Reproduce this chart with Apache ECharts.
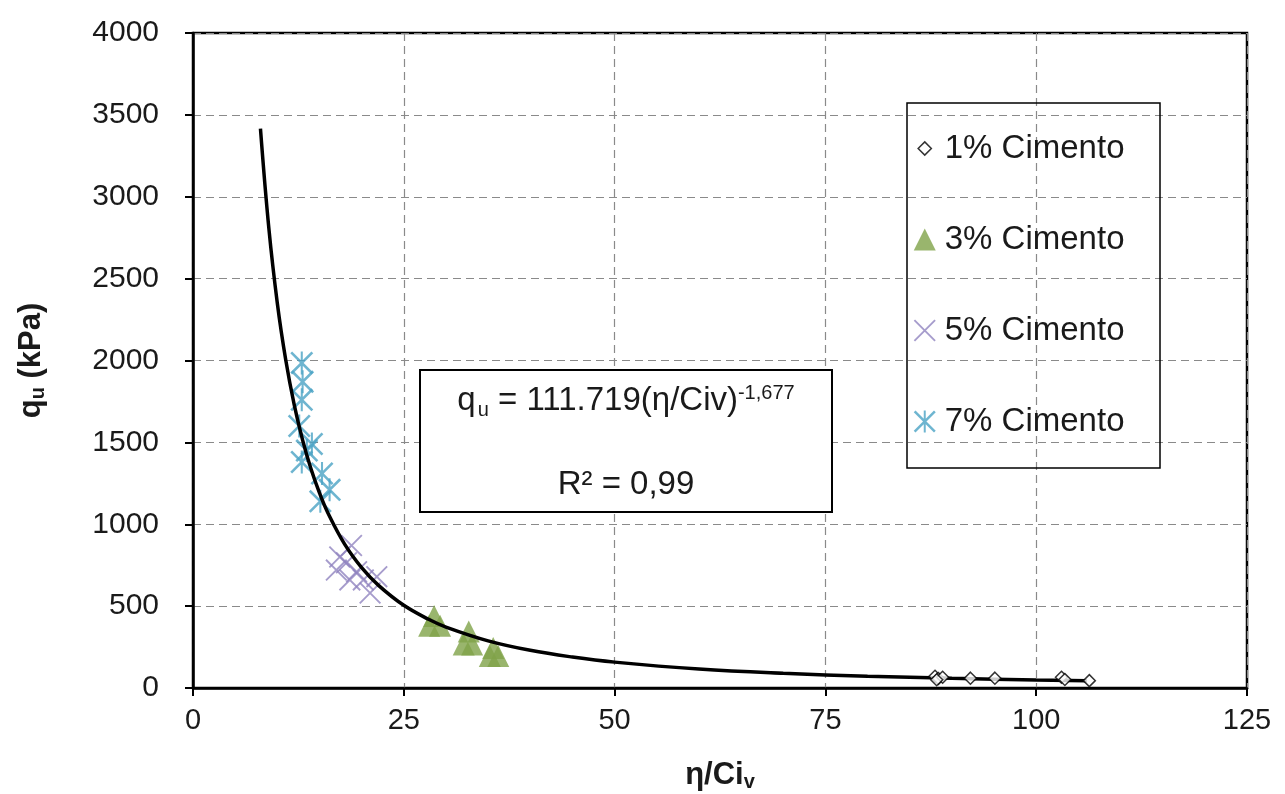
<!DOCTYPE html>
<html>
<head>
<meta charset="utf-8">
<script src="https://cdn.jsdelivr.net/npm/echarts@6/dist/echarts.min.js"></script>
<style>
html,body{margin:0;padding:0;background:#fff;}
#c{width:1285px;height:794px;}
</style>
</head>
<body>
<div id="c"></div>
<script>
// ---- data ----
const xTicks = [0, 25, 50, 75, 100, 125];
const yTicks = [0, 500, 1000, 1500, 2000, 2500, 3000, 3500, 4000];
const seriesNames = ['1% Cimento', '3% Cimento', '5% Cimento', '7% Cimento'];
const cement1 = [[88.0,72],[88.4,58],[88.9,66],[88.2,50],[92.2,60],[95.1,60],[103.0,66],[103.4,52],[106.3,45]];
const cement3 = [[28.6,440],[28.0,380],[29.3,380],[32.7,345],[32.1,265],[33.1,265],[35.6,245],[35.2,195],[36.2,195]];
const cement5 = [[18.8,870],[17.4,800],[18.2,765],[17.0,720],[19.4,710],[18.6,660],[20.2,660],[21.8,680],[21.0,580]];
const cement7 = [[12.9,1985],[13.0,1870],[12.9,1760],[12.6,1600],[14.1,1490],[13.5,1450],[12.9,1380],[15.3,1310],[16.2,1210],[15.1,1140]];
const trendX = [8, 9, 10, 11, 12, 13, 14, 15, 16, 18, 20, 22, 25, 28, 30, 35, 40, 45, 50, 60, 70, 80, 90, 100, 106];
const trendY = [3416, 2805, 2350, 2003, 1731, 1514, 1337, 1191, 1069, 877, 735, 627, 505, 418, 372, 288, 230, 189, 158, 116, 90, 72, 59, 49, 45];
const equationText = ['q', 'u', ' = 111.719(η/Civ)', '-1,677'];
const r2Text = 'R² = 0,99';

const trend = trendX.map((x, i) => [x, trendY[i]]);

const asteriskPath = 'path://M0,0.8 L0.8,0 L10,9.2 L9.2,10 Z M9.2,0 L10,0.8 L0.8,10 L0,9.2 Z M4.55,0 L5.45,0 L5.45,10 L4.55,10 Z';
const crossPath = 'path://M0,0.6 L0.6,0 L10,9.4 L9.4,10 Z M9.4,0 L10,0.6 L0.6,10 L0,9.4 Z';
const smallDiamondIcon = 'path://M0,0 M20,20 M10,4 L16,10 L10,16 L4,10 Z';

const FONT = '"Liberation Sans", Arial, sans-serif';
const TXT = '#1a1a1a';

const chart = echarts.init(document.getElementById('c'));
chart.setOption({
  backgroundColor: '#ffffff',
  animation: false,
  grid: {
    left: 193, right: 38, top: 33, bottom: 106,
    outerBoundsMode: 'none', containLabel: false,
    show: true, borderColor: '#000', borderWidth: 2.5, backgroundColor: 'transparent'
  },
  xAxis: {
    type: 'value', min: 0, max: 125, interval: 25,
    name: '{a|η/Ci}{b|v}',
    nameLocation: 'middle', nameGap: 70,
    nameTextStyle: {
      rich: {
        a: { fontFamily: FONT, fontSize: 31, fontWeight: 'bold', color: TXT },
        b: { fontFamily: FONT, fontSize: 20, fontWeight: 'bold', color: TXT, padding: [14, 0, 0, 0] }
      }
    },
    axisLine: { show: true, onZero: false, lineStyle: { color: '#000', width: 2.5 } },
    axisTick: { show: true, inside: false, length: 8, lineStyle: { color: '#000', width: 2 } },
    axisLabel: {
      margin: 18, fontSize: 29, color: TXT, fontFamily: FONT,
      formatter: v => xTicks.includes(v) ? String(v) : ''
    },
    splitLine: { show: true, lineStyle: { color: '#8a8a8a', width: 1.2, type: [8, 5] } }
  },
  yAxis: {
    type: 'value', min: 0, max: 4000, interval: 500,
    name: '{a|q}{b|u}{a| (kPa)}',
    nameLocation: 'middle', nameGap: 145, nameRotate: 90,
    nameTextStyle: {
      rich: {
        a: { fontFamily: FONT, fontSize: 31, fontWeight: 'bold', color: TXT },
        b: { fontFamily: FONT, fontSize: 20, fontWeight: 'bold', color: TXT, padding: [14, 0, 0, 0] }
      }
    },
    axisLine: { show: true, onZero: false, lineStyle: { color: '#000', width: 2.5 } },
    axisTick: { show: true, inside: false, length: 8, lineStyle: { color: '#000', width: 2 } },
    axisLabel: {
      margin: 34, fontSize: 30, color: TXT, fontFamily: FONT,
      formatter: v => yTicks.includes(v) ? String(v) : ''
    },
    splitLine: { show: true, lineStyle: { color: '#8a8a8a', width: 1.2, type: [8, 5] } }
  },
  legend: {
    orient: 'vertical',
    left: 913, top: 132,
    itemGap: 58, itemWidth: 22, itemHeight: 22,
    padding: 0,
    textStyle: { fontFamily: FONT, fontSize: 33, color: TXT, padding: [0, 0, 0, 4] },
    data: [
      { name: seriesNames[0], icon: smallDiamondIcon, itemStyle: { color: '#fff', borderColor: '#000', borderWidth: 1.5 } },
      { name: seriesNames[1], icon: 'triangle' },
      { name: seriesNames[2], icon: crossPath },
      { name: seriesNames[3], icon: asteriskPath }
    ]
  },
  graphic: [
    { type: 'rect', x: 907, y: 103, z: 5, shape: { x: 0, y: 0, width: 253, height: 365 },
      style: { fill: 'rgba(255,255,255,0)', stroke: '#000', lineWidth: 1.5 }, silent: true },
    { type: 'rect', x: 420, y: 370, z: 5, shape: { x: 0, y: 0, width: 412, height: 142 },
      style: { fill: '#fff', stroke: '#000', lineWidth: 2 }, silent: true },
    { type: 'text', x: 626, y: 401, z: 6,
      style: {
        text: '{n|' + equationText[0] + '}{sub|' + equationText[1] + '}{n|' + equationText[2] + '}{sup|' + equationText[3] + '}',
        align: 'center', verticalAlign: 'middle',
        rich: {
          n: { fontFamily: FONT, fontSize: 33, fill: TXT, color: TXT, lineHeight: 44, verticalAlign: 'middle' },
          sub: { fontFamily: FONT, fontSize: 20, fill: TXT, color: TXT, lineHeight: 44, padding: [18, 0, 0, 2], verticalAlign: 'middle' },
          sup: { fontFamily: FONT, fontSize: 20, fill: TXT, color: TXT, lineHeight: 44, padding: [0, 0, 16, 0], verticalAlign: 'middle' }
        }
      } },
    { type: 'text', x: 626, y: 485, z: 6,
      style: { text: r2Text, fontFamily: FONT, fontSize: 33, fill: TXT, align: 'center', verticalAlign: 'middle' } }
  ],
  series: [
    { name: 'trend', type: 'line', data: trend, smooth: 0.4, showSymbol: false, symbol: 'none',
      lineStyle: { color: '#000', width: 3.5 }, z: 3, silent: true },
    { name: seriesNames[0], type: 'scatter', data: cement1, symbol: 'diamond', symbolSize: 12,
      itemStyle: { color: '#fff', borderColor: '#000', borderWidth: 1.5 }, z: 4 },
    { name: seriesNames[1], type: 'scatter', data: cement3, symbol: 'triangle', symbolSize: 22,
      itemStyle: { color: '#7fa348' }, z: 2 },
    { name: seriesNames[2], type: 'scatter', data: cement5, symbol: crossPath, symbolSize: 22,
      itemStyle: { color: '#9083bf' }, z: 2 },
    { name: seriesNames[3], type: 'scatter', data: cement7, symbol: asteriskPath, symbolSize: 23,
      itemStyle: { color: '#4aa3c4' }, z: 2 }
  ]
});
</script>
</body>
</html>
